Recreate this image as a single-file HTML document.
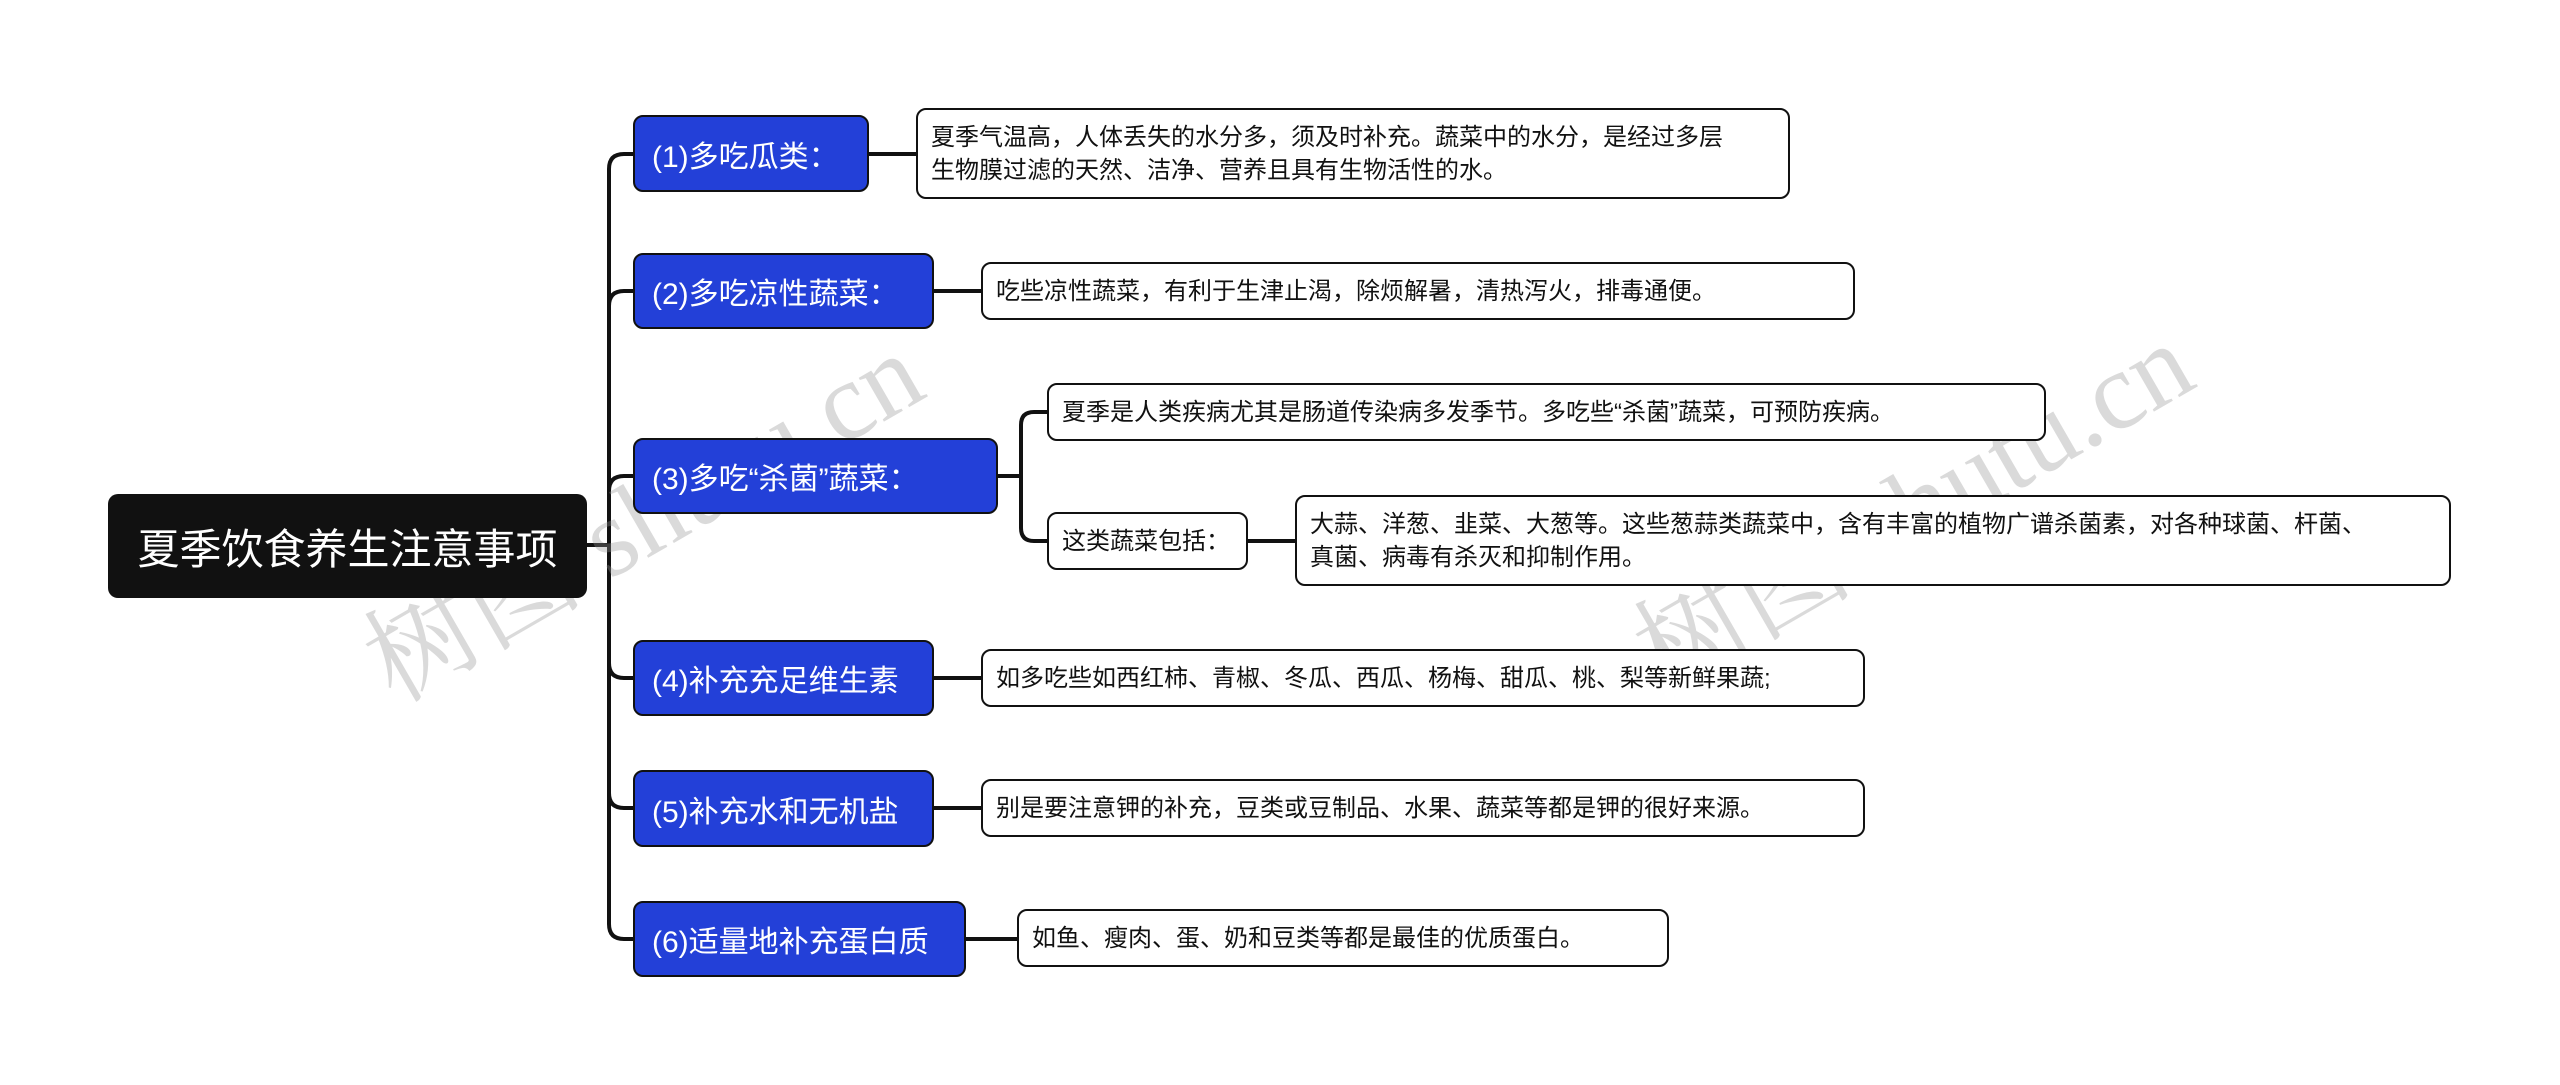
<!DOCTYPE html>
<html><head><meta charset="utf-8"><style>
body{margin:0;width:2560px;height:1085px;background:#fff;position:relative;overflow:hidden;font-family:"Liberation Sans","Noto Sans CJK SC",sans-serif;}
.b{position:absolute;box-sizing:border-box;}
.root{background:#111;color:#fff;border-radius:10px;font-size:42px;display:flex;align-items:center;justify-content:center;}
.br{background:#2340d8;color:#fff;border:2px solid #111;border-radius:10px;font-size:30px;display:flex;align-items:center;padding-left:17px;}
.lf{background:#fff;color:#111;border:2px solid #111;border-radius:10px;font-size:24px;line-height:33px;padding:0 13px;display:flex;align-items:center;}
.wm{position:absolute;color:rgba(150,150,150,0.35);font-family:"Liberation Serif","Noto Serif CJK SC",serif;font-size:110px;transform:rotate(-30deg);white-space:nowrap;}
</style></head><body>
<svg class="b" style="left:0;top:0" width="2560" height="1085">
<g fill="none" stroke="#111" stroke-width="4">
<path d="M585 545 H609"/>
<path d="M633 154 H624 Q609 154 609 169 V924 Q609 939 624 939 H633"/>
<path d="M609 306 Q609 291 624 291 H633"/>
<path d="M609 491 Q609 476 624 476 H633"/>
<path d="M609 663 Q609 678 624 678 H633"/>
<path d="M609 793 Q609 808 624 808 H633"/>
<path d="M869 154 H916"/>
<path d="M934 291 H981"/>
<path d="M998 476 H1021"/>
<path d="M1047 412 H1034 Q1021 412 1021 425 V528 Q1021 541 1034 541 H1047"/>
<path d="M1248 541 H1295"/>
<path d="M934 678 H981"/>
<path d="M934 808 H981"/>
<path d="M966 939 H1017"/>
</g></svg>
<div class="wm" style="left:330px;top:430px">树图 shutu.cn</div>
<div class="wm" style="left:1600px;top:420px">树图 shutu.cn</div>
<div class="b root" style="left:108px;top:494px;width:479px;height:104px">夏季饮食养生注意事项</div>
<div class="b br" style="left:633px;top:115px;width:236px;height:77px">(1)多吃瓜类：</div>
<div class="b br" style="left:633px;top:253px;width:301px;height:76px">(2)多吃凉性蔬菜：</div>
<div class="b br" style="left:633px;top:438px;width:365px;height:76px">(3)多吃“杀菌”蔬菜：</div>
<div class="b br" style="left:633px;top:640px;width:301px;height:76px">(4)补充充足维生素</div>
<div class="b br" style="left:633px;top:770px;width:301px;height:77px">(5)补充水和无机盐</div>
<div class="b br" style="left:633px;top:901px;width:333px;height:76px">(6)适量地补充蛋白质</div>
<div class="b lf" style="left:916px;top:108px;width:874px;height:91px"><div>夏季气温高，人体丢失的水分多，须及时补充。蔬菜中的水分，是经过多层<br>生物膜过滤的天然、洁净、营养且具有生物活性的水。</div></div>
<div class="b lf" style="left:981px;top:262px;width:874px;height:58px">吃些凉性蔬菜，有利于生津止渴，除烦解暑，清热泻火，排毒通便。</div>
<div class="b lf" style="left:1047px;top:383px;width:999px;height:58px">夏季是人类疾病尤其是肠道传染病多发季节。多吃些“杀菌”蔬菜，可预防疾病。</div>
<div class="b lf" style="left:1047px;top:512px;width:201px;height:58px">这类蔬菜包括：</div>
<div class="b lf" style="left:1295px;top:495px;width:1156px;height:91px"><div>大蒜、洋葱、韭菜、大葱等。这些葱蒜类蔬菜中，含有丰富的植物广谱杀菌素，对各种球菌、杆菌、<br>真菌、病毒有杀灭和抑制作用。</div></div>
<div class="b lf" style="left:981px;top:649px;width:884px;height:58px">如多吃些如西红柿、青椒、冬瓜、西瓜、杨梅、甜瓜、桃、梨等新鲜果蔬;</div>
<div class="b lf" style="left:981px;top:779px;width:884px;height:58px">别是要注意钾的补充，豆类或豆制品、水果、蔬菜等都是钾的很好来源。</div>
<div class="b lf" style="left:1017px;top:909px;width:652px;height:58px">如鱼、瘦肉、蛋、奶和豆类等都是最佳的优质蛋白。</div>
</body></html>
